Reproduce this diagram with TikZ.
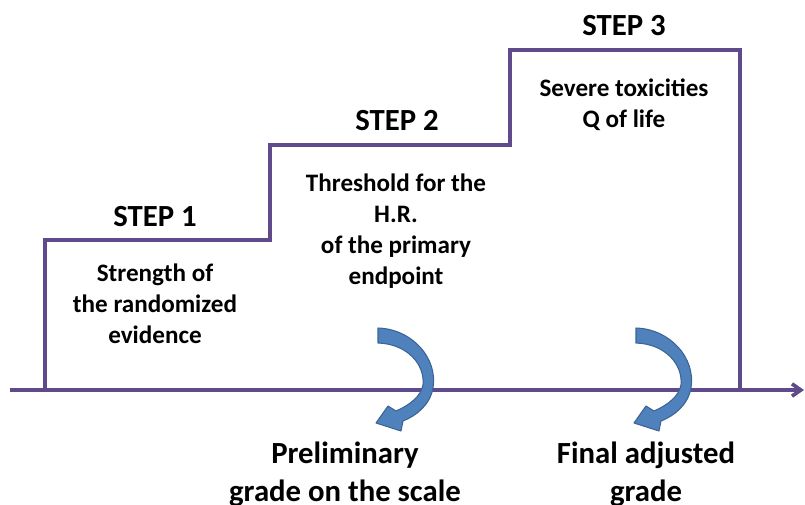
\documentclass[tikz,border=0pt]{standalone}
\usepackage{fontspec}
\setmainfont{Carlito}
\usetikzlibrary{arrows.meta}
\definecolor{stair}{HTML}{5F4B8B}
\definecolor{turn}{HTML}{4F81BD}
\definecolor{turnedge}{HTML}{3B6494}

\begin{document}
\begin{tikzpicture}[x=0.02cm,y=-0.02cm,
  steplabel/.style={font=\fontsize{17.5}{21}\selectfont\bfseries,align=center},
  stepbody/.style={font=\fontsize{14.3}{17.6}\selectfont\bfseries,align=center,anchor=north},
  grade/.style={font=\fontsize{17.5}{21.6}\selectfont\bfseries,align=center,anchor=north},
  line/.style={draw=stair,line width=2.1pt},
  turnarrow/.style={fill=turn,draw=turnedge,line width=0.6pt,line join=round}
]
\useasboundingbox (0,0) rectangle (805,504);

% axis and stair outline
\coordinate (axisL) at (10,390);
\coordinate (axisR) at (804,390);
\draw[line,-{Straight Barb[length=5pt,width=7pt]}] (axisL) -- (axisR);
\draw[line,line join=miter] (45,390) -- (45,240) -- (270,240) -- (270,145)
  -- (510,145) -- (510,50) -- (740,50) -- (740,390);

\node[steplabel] (step1) at (155,217) {STEP 1};
\node[steplabel] (step2) at (397,121) {STEP 2};
\node[steplabel] (step3) at (624,26) {STEP 3};

\node[stepbody] (body1) at (155,258) {Strength of\\the randomized\\evidence};
\node[stepbody] (body2) at (396,168) {Threshold for the\\H.R.\\of the primary\\endpoint};
\node[stepbody] (body3) at (624,73) {Severe toxicities\\Q of life};

% curved arrows
\foreach \dx in {0,258}{
  \begin{scope}[xshift=\dx*0.02cm]
  \path[turnarrow] (378,328) .. controls (412,329) and (438,358) .. (433,388)
    .. controls (430,405) and (416,416) .. (403,421)
    -- (401,431) -- (376,423) -- (388,406) -- (396,411)
    .. controls (410,405) and (421,396) .. (423,385)
    .. controls (425,365) and (408,344) .. (378,343) -- cycle;
  \end{scope}
}

\node[grade] (prelim) at (345,436) {Preliminary\\grade on the scale};
\node[grade] (final) at (646,436) {Final adjusted\\grade};
\end{tikzpicture}
\end{document}
